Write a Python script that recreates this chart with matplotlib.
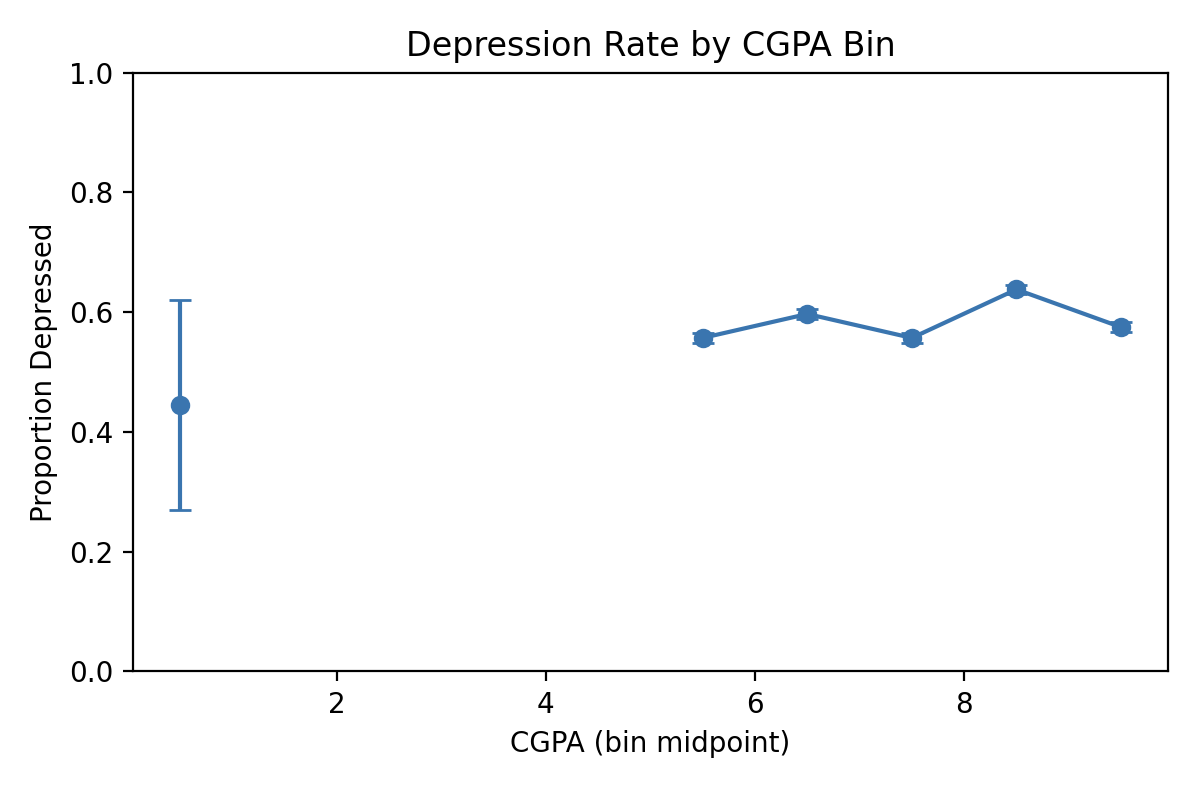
import numpy as np
import matplotlib.pyplot as plt

midpoints = [0.5, 1.5, 2.5, 3.5, 4.5, 5.5, 6.5, 7.5, 8.5, 9.5]
rates = [0.445, np.nan, np.nan, np.nan, np.nan, 0.557, 0.597, 0.557, 0.638, 0.575]
errors = [0.175, np.nan, np.nan, np.nan, np.nan, 0.008, 0.008, 0.008, 0.008, 0.008]

fig, ax = plt.subplots(figsize=(5.99, 3.94), dpi=200)
ax.errorbar(midpoints, rates, yerr=errors, fmt='-o', color='#3a75af', capsize=4)
ax.set_ylim(0, 1)
ax.set_xlabel('CGPA (bin midpoint)')
ax.set_ylabel('Proportion Depressed')
ax.set_title('Depression Rate by CGPA Bin')
fig.tight_layout()
fig.savefig('out.png', dpi=200)
